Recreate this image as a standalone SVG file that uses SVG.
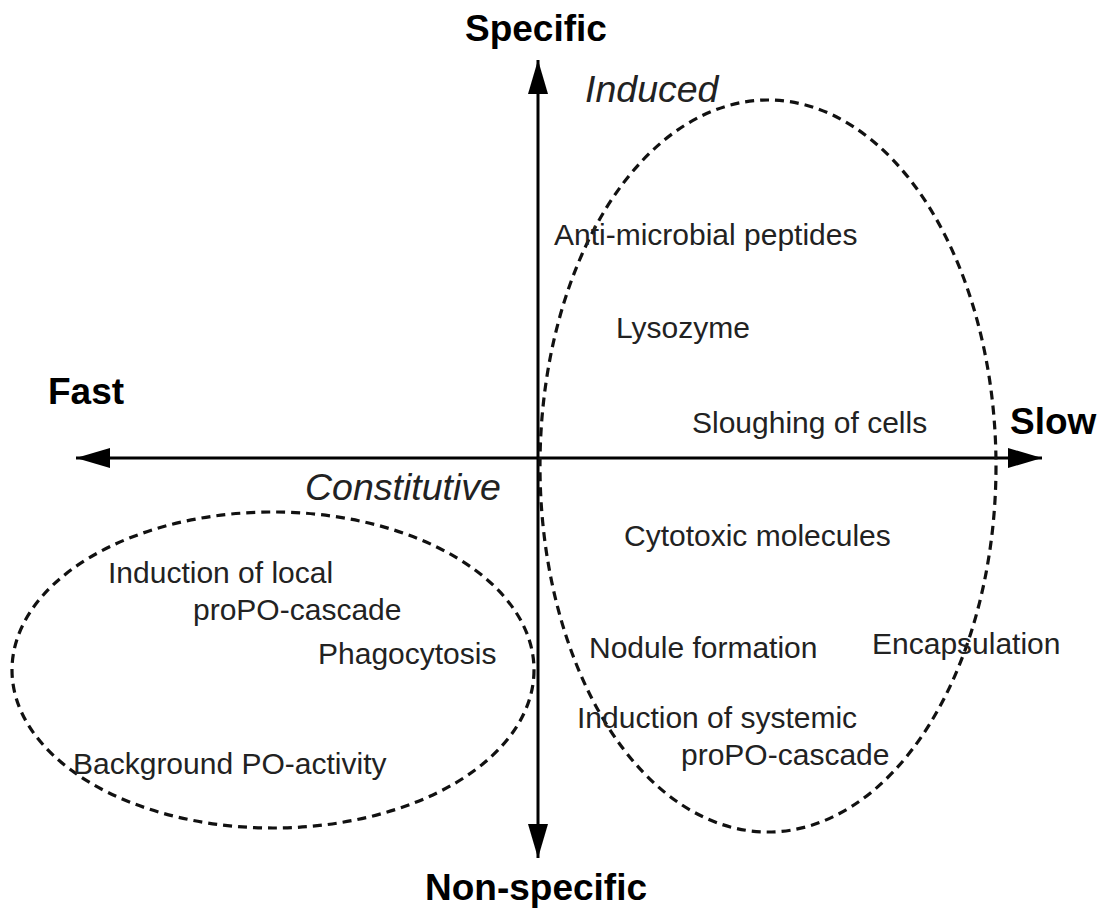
<svg xmlns="http://www.w3.org/2000/svg" width="1102" height="908" viewBox="0 0 1102 908">
<style>
.ax{stroke:#000;stroke-width:3;fill:none}
.el{stroke:#111;stroke-width:3.2;fill:none;stroke-dasharray:9 6}
.b{font-family:"Liberation Sans",Arial,sans-serif;font-weight:bold;font-size:37px;fill:#000}
.i{font-family:"Liberation Sans",Arial,sans-serif;font-style:italic;font-size:37.5px;fill:#222}
.t{font-family:"Liberation Sans",Arial,sans-serif;font-size:30px;fill:#222}
</style>
<defs>
<marker id="a" viewBox="0 0 34 20" refX="34" refY="10" markerWidth="34" markerHeight="20" markerUnits="userSpaceOnUse" orient="auto">
<path d="M0,0 L34,10 L0,20 Z" fill="#000"/>
</marker>
</defs>
<g id="connectors">
<line class="ax" x1="538" y1="458" x2="538" y2="60" marker-end="url(#a)"/>
<line class="ax" x1="538" y1="458" x2="538" y2="858" marker-end="url(#a)"/>
<line class="ax" x1="538" y1="458" x2="76" y2="458" marker-end="url(#a)"/>
<line class="ax" x1="538" y1="458" x2="1042" y2="458" marker-end="url(#a)"/>
</g>
<g id="induced">
<ellipse class="el" cx="768" cy="466" rx="228" ry="366"/>
<text class="i" x="585" y="102">Induced</text>
</g>
<g id="constitutive">
<ellipse class="el" cx="273" cy="670" rx="261" ry="158"/>
<text class="i" x="305" y="500">Constitutive</text>
</g>
<g id="axis-labels">
<text class="b" x="465" y="41">Specific</text>
<text class="b" x="425" y="900">Non-specific</text>
<text class="b" x="48" y="404">Fast</text>
<text class="b" x="1010" y="434">Slow</text>
</g>
<g id="n-amp"><text class="t" x="554" y="245">Anti-microbial peptides</text></g>
<g id="n-lys"><text class="t" x="616" y="338">Lysozyme</text></g>
<g id="n-slough"><text class="t" x="692" y="433">Sloughing of cells</text></g>
<g id="n-cyto"><text class="t" x="624" y="546">Cytotoxic molecules</text></g>
<g id="n-nodule"><text class="t" x="589" y="658">Nodule formation</text></g>
<g id="n-encaps"><text class="t" x="872" y="654">Encapsulation</text></g>
<g id="n-sys"><text class="t" x="577" y="728">Induction of systemic</text><text class="t" x="681" y="765">proPO-cascade</text></g>
<g id="n-local"><text class="t" x="108" y="583">Induction of local</text><text class="t" x="193" y="620">proPO-cascade</text></g>
<g id="n-phago"><text class="t" x="318" y="664">Phagocytosis</text></g>
<g id="n-bg"><text class="t" x="73" y="774">Background PO-activity</text></g>
</svg>
